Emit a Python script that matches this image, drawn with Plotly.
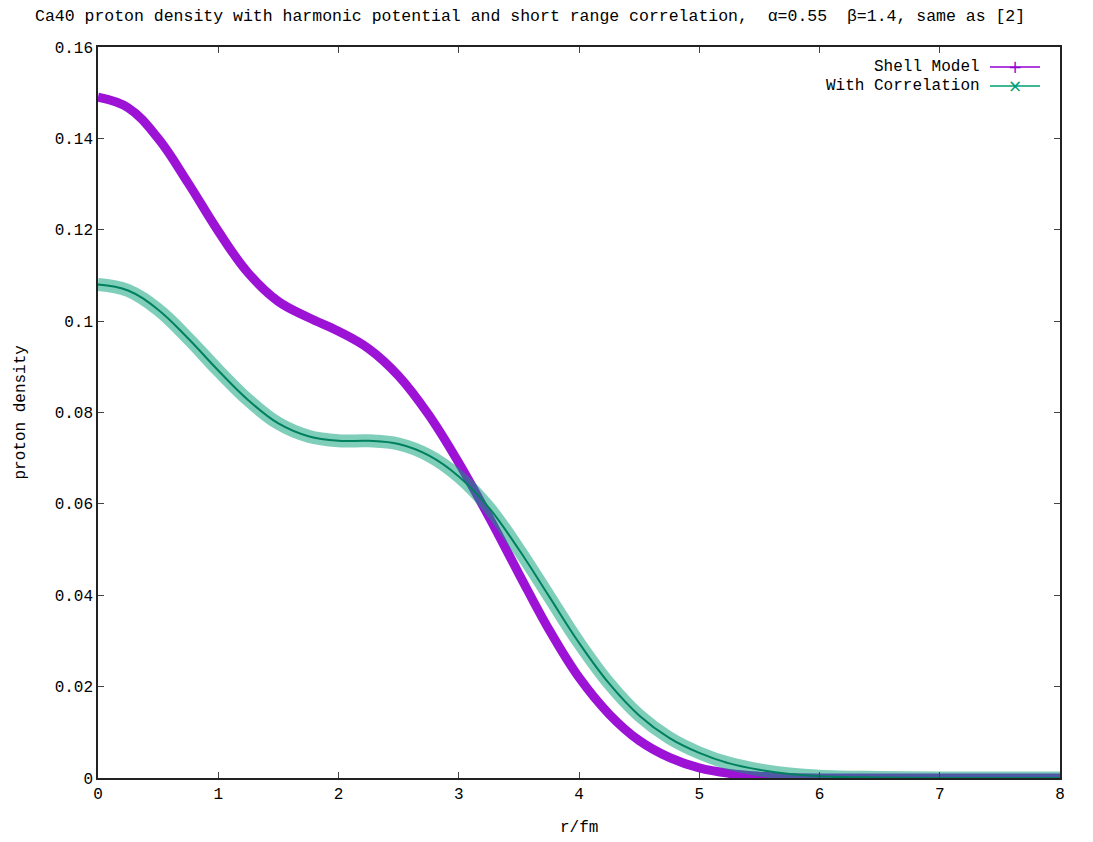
import plotly.graph_objects as go

r = [0, 0.25, 0.5, 0.75, 1.0, 1.25, 1.5, 1.75, 2.0, 2.25, 2.5, 2.75, 3.0, 3.25, 3.5,
     3.75, 4.0, 4.25, 4.5, 4.75, 5.0, 5.25, 5.5, 5.75, 6.0, 6.5, 7.0, 7.5, 8.0]
shell_model = [0.1490, 0.1467, 0.1400, 0.1302, 0.1197, 0.1105, 0.1043, 0.1008, 0.0978, 0.0940,
               0.0880, 0.0795, 0.0690, 0.0572, 0.0447, 0.0325, 0.0220, 0.0140, 0.0082, 0.0045,
               0.0022, 0.0010, 0.0004, 0.0001, 0.0, 0.0, 0.0, 0.0, 0.0]
with_correlation = [0.1080, 0.1067, 0.1025, 0.0962, 0.0892, 0.0827, 0.0776, 0.0748, 0.0738, 0.0738,
                    0.0731, 0.0706, 0.0660, 0.0592, 0.0500, 0.0398, 0.0296, 0.0207, 0.0137, 0.0088,
                    0.0055, 0.0032, 0.0018, 0.0009, 0.0004, 0.0001, 0.0, 0.0, 0.0]
y_ticks = [0, 0.02, 0.04, 0.06, 0.08, 0.1, 0.12, 0.14, 0.16]
y_tick_text = ["0", "0.02", "0.04", "0.06", "0.08", "0.1", "0.12", "0.14", "0.16"]
x_ticks = [0, 1, 2, 3, 4, 5, 6, 7, 8]

PURPLE = "#9400D3"
GREEN = "#009E73"
FONT = "Liberation Mono"
FS = 16

# page body has an 8px margin; figure sized so the plot area lands at x 98..1060, y 47..778
W, H = 1085, 834
ML, MR, MT, MB = 90, 33, 39, 64
PW, PH = W - ML - MR, H - MT - MB


def px(xs):  # screen x -> paper
    return (xs - 8 - ML) / PW


def py(ys):  # screen y -> paper
    return (H - MB - (ys - 8)) / PH


fig = go.Figure()
fig.add_trace(go.Scatter(x=r, y=shell_model, mode="lines",
                         line=dict(color=PURPLE, width=9, shape="spline", smoothing=1.1),
                         opacity=0.92, showlegend=False, name="Shell Model"))
fig.add_trace(go.Scatter(x=r, y=with_correlation, mode="lines",
                         line=dict(color="rgba(0,158,115,0.5)", width=13, shape="spline", smoothing=1.1),
                         showlegend=False, name="With Correlation halo"))
fig.add_trace(go.Scatter(x=r, y=with_correlation, mode="lines",
                         line=dict(color="#00805e", width=2, shape="spline", smoothing=1.1),
                         showlegend=False, name="With Correlation"))

axis_common = dict(showline=True, linecolor="#222", linewidth=1.5, mirror="ticks",
                   ticks="inside", ticklen=6, tickcolor="#444", showgrid=False, zeroline=False,
                   automargin=False, tickfont=dict(family=FONT, size=FS, color="black"))
fig.update_xaxes(range=[0, 8], tickvals=x_ticks, **axis_common)
fig.update_yaxes(range=[0, 0.16], tickvals=y_ticks, ticktext=y_tick_text, **axis_common)

fig.update_layout(
    width=W, height=H,
    margin=dict(l=ML, r=MR, t=MT, b=MB),
    paper_bgcolor="white", plot_bgcolor="white",
    showlegend=False,
    title=dict(text="Ca40 proton density with harmonic potential and short range correlation,  \u03b1=0.55  \u03b2=1.4, same as [2]",
               font=dict(family=FONT, size=16.5, color="black"), xref="container", x=(35 - 8) / W, xanchor="left",
               yref="container", y=1 - (15 - 8) / H, yanchor="middle"),
)

# axis titles
fig.add_annotation(x=0.5, y=py(828), xref="paper", yref="paper", text="r/fm", showarrow=False,
                   xanchor="center", yanchor="middle", font=dict(family=FONT, size=FS, color="black"))
fig.add_annotation(x=px(20), y=0.5, xref="paper", yref="paper", text="proton density", showarrow=False,
                   textangle=-90, xanchor="center", yanchor="middle", font=dict(family=FONT, size=FS, color="black"))

# legend (gnuplot-style: text then sample)
legend_items = [("Shell Model", PURPLE, "+", py(67)), ("With Correlation", GREEN, "\u00d7", py(86))]
for label, color, sym, yy in legend_items:
    fig.add_annotation(x=px(982), y=yy, xref="paper", yref="paper", text=label, showarrow=False,
                       xanchor="right", yanchor="middle", font=dict(family=FONT, size=FS, color="black"))
    fig.add_shape(type="line", xref="paper", yref="paper", x0=px(990), x1=px(1040), y0=yy, y1=yy,
                  line=dict(color=color, width=2), opacity=0.75)
    fig.add_annotation(x=px(1015), y=yy, xref="paper", yref="paper", text=sym, showarrow=False,
                       xanchor="center", yanchor="middle", font=dict(family="DejaVu Sans", size=17, color=color))

fig.write_html("out.html")
